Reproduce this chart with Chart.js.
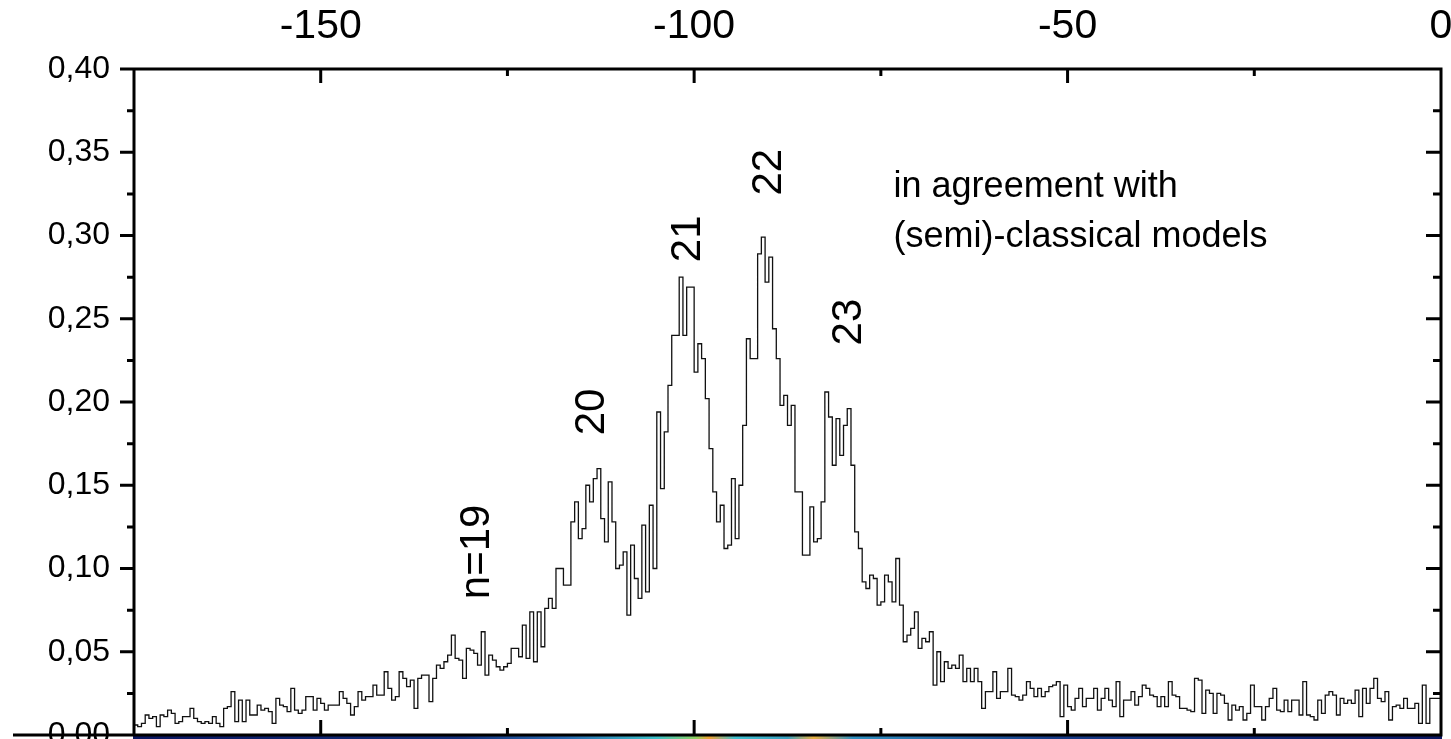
<!DOCTYPE html>
<html>
<head>
<meta charset="utf-8">
<script src="https://cdn.jsdelivr.net/npm/chart.js@4/dist/chart.umd.min.js"></script>
<style>
  html, body { margin: 0; padding: 0; background: #fff; }
  #wrap { width: 1451px; height: 739px; position: relative; }
</style>
</head>
<body>
<div id="wrap"><canvas id="spectrumChart"></canvas></div>
<script>
// histogram: bins of 0.5 starting at -175
const binStart = -175;
const binWidth = 0.5;

const countsLow = [
  0.006, 0.006, 0.005, 0.007, 0.012, 0.010, 0.011, 0.005, 0.012, 0.011,
  0.015, 0.013, 0.007, 0.008, 0.011, 0.011, 0.016, 0.010, 0.008, 0.007,
  0.008, 0.007, 0.011, 0.007, 0.005, 0.016, 0.017, 0.026, 0.008, 0.021,
  0.008, 0.021, 0.012, 0.012, 0.018, 0.015, 0.016, 0.014, 0.007, 0.022,
  0.018, 0.017, 0.014, 0.028, 0.015, 0.013, 0.015, 0.023, 0.023, 0.015,
  0.022, 0.019, 0.015, 0.018, 0.018, 0.018, 0.026, 0.022, 0.019, 0.012,
  0.017, 0.026, 0.021, 0.023, 0.023, 0.030, 0.024, 0.024, 0.038, 0.028,
  0.021, 0.023, 0.038, 0.034, 0.029, 0.033, 0.016, 0.034, 0.036, 0.036,
  0.020, 0.034, 0.042, 0.040, 0.044, 0.048, 0.060, 0.046, 0.045, 0.034,
  0.052, 0.051, 0.049, 0.042, 0.062, 0.036, 0.048, 0.045, 0.041, 0.039,
  0.041, 0.043, 0.052, 0.052, 0.047, 0.066, 0.046, 0.074, 0.044, 0.074,
  0.053, 0.076, 0.082, 0.076, 0.100, 0.100, 0.090, 0.090, 0.128, 0.140
];

const countsPeaks = [
  0.118, 0.124, 0.150, 0.140, 0.154, 0.160, 0.130, 0.116, 0.152, 0.128,
  0.100, 0.102, 0.110, 0.072, 0.114, 0.094, 0.082, 0.126, 0.086, 0.138,
  0.100, 0.194, 0.148, 0.182, 0.210, 0.240, 0.240, 0.275, 0.240, 0.269,
  0.269, 0.218, 0.235, 0.226, 0.202, 0.172, 0.146, 0.128, 0.138, 0.112,
  0.114, 0.154, 0.118, 0.150, 0.186, 0.238, 0.226, 0.226, 0.289, 0.299,
  0.272, 0.287, 0.244, 0.226, 0.198, 0.204, 0.186, 0.198, 0.146, 0.146,
  0.108, 0.108, 0.137, 0.116, 0.118, 0.140, 0.206, 0.191, 0.162, 0.190,
  0.168, 0.186, 0.196, 0.162, 0.122, 0.112, 0.092, 0.088, 0.096, 0.094,
  0.078, 0.080, 0.096, 0.092, 0.080, 0.106, 0.078, 0.056, 0.060, 0.064,
  0.074, 0.052, 0.058, 0.056, 0.062, 0.030, 0.050, 0.032, 0.044, 0.040,
  0.042, 0.040, 0.048, 0.032, 0.040, 0.032, 0.040, 0.032, 0.016, 0.026,
  0.026, 0.038, 0.022, 0.026, 0.026
];

const countsTail = [
  0.040, 0.024, 0.023, 0.021, 0.024, 0.032, 0.028, 0.023, 0.028, 0.023,
  0.026, 0.029, 0.030, 0.032, 0.011, 0.030, 0.017, 0.015, 0.022, 0.028,
  0.017, 0.022, 0.022, 0.028, 0.015, 0.022, 0.028, 0.021, 0.017, 0.032,
  0.011, 0.021, 0.021, 0.026, 0.018, 0.023, 0.030, 0.028, 0.024, 0.023,
  0.017, 0.023, 0.017, 0.032, 0.024, 0.023, 0.016, 0.016, 0.015, 0.014,
  0.034, 0.033, 0.013, 0.027, 0.025, 0.013, 0.025, 0.024, 0.019,
  0.009, 0.018, 0.015, 0.017, 0.009, 0.013, 0.030, 0.017, 0.017, 0.009,
  0.017, 0.022, 0.028, 0.015, 0.014, 0.021, 0.014, 0.021, 0.021, 0.012,
  0.032, 0.012, 0.011, 0.009, 0.021, 0.013, 0.024, 0.026, 0.024, 0.012,
  0.022, 0.019, 0.021, 0.019, 0.027, 0.011, 0.028, 0.019, 0.028, 0.034,
  0.022, 0.020, 0.026, 0.009, 0.017, 0.018, 0.016, 0.022, 0.016, 0.016,
  0.019, 0.007, 0.030, 0.007, 0.022, 0.022
];

const xTickValues = [-150, -100, -50, 0];
const xMinorValues = [-125, -75, -25];
const yTickValues = [0, 0.05, 0.10, 0.15, 0.20, 0.25, 0.30, 0.35, 0.40];
const yMinorValues = [0.025, 0.075, 0.125, 0.175, 0.225, 0.275, 0.325, 0.375];

const peakLabels = ['n=19', '20', '21', '22', '23'];
const peakLabelX = [-129.0, -113.6, -100.8, -89.9, -79.2];
const peakLabelY = [0.110, 0.194, 0.298, 0.338, 0.248];

const noteLines = ['in agreement with', '(semi)-classical models'];
const noteX = -73.3;
const noteY = [0.329, 0.299];

const FONT = '"Liberation Sans", Arial, sans-serif';

const counts = countsLow.concat(countsPeaks, countsTail);
const points = counts.map((v, i) => ({ x: binStart + i * binWidth, y: v }));
points.push({ x: binStart + counts.length * binWidth, y: counts[counts.length - 1] });

const framePlugin = {
  id: 'frame',
  afterDatasetsDraw(chart) {
    const { ctx, chartArea: a, scales: { x, y } } = chart;
    ctx.save();

    // coloured strip of the picture below the axis
    const g = ctx.createLinearGradient(a.left, 0, a.right, 0);
    g.addColorStop(0.00, '#0a1660');
    g.addColorStop(0.25, '#14307a');
    g.addColorStop(0.33, '#2a6ab0');
    g.addColorStop(0.40, '#3cc0c8');
    g.addColorStop(0.43, '#8fd060');
    g.addColorStop(0.44, '#f0a030');
    g.addColorStop(0.46, '#40c0d0');
    g.addColorStop(0.50, '#3aa0c0');
    g.addColorStop(0.52, '#e8b040');
    g.addColorStop(0.55, '#3090c0');
    g.addColorStop(0.70, '#183c88');
    g.addColorStop(1.00, '#0a1660');
    ctx.fillStyle = g;
    ctx.fillRect(a.left - 1, a.bottom + 1, a.right - a.left + 2, 4);

    ctx.strokeStyle = '#000';
    ctx.lineWidth = 3;
    ctx.lineCap = 'butt';
    ctx.beginPath();
    ctx.moveTo(a.left - 1.5, a.top); ctx.lineTo(a.right + 1.5, a.top);
    ctx.moveTo(a.left, a.top); ctx.lineTo(a.left, a.bottom);
    ctx.moveTo(a.right, a.top); ctx.lineTo(a.right, a.bottom);
    ctx.moveTo(13, a.bottom); ctx.lineTo(a.right + 1.5, a.bottom);

    xTickValues.forEach(v => {
      const px = x.getPixelForValue(v);
      ctx.moveTo(px, a.top); ctx.lineTo(px, a.top + 14);
      ctx.moveTo(px, a.bottom); ctx.lineTo(px, a.bottom - 15);
    });
    xMinorValues.forEach(v => {
      const px = x.getPixelForValue(v);
      ctx.moveTo(px, a.top); ctx.lineTo(px, a.top + 7);
      ctx.moveTo(px, a.bottom); ctx.lineTo(px, a.bottom - 7);
    });
    yTickValues.forEach(v => {
      const py = y.getPixelForValue(v);
      ctx.moveTo(a.left - 14, py); ctx.lineTo(a.left, py);
      ctx.moveTo(a.right, py); ctx.lineTo(a.right - 15, py);
    });
    yMinorValues.forEach(v => {
      const py = y.getPixelForValue(v);
      ctx.moveTo(a.left - 7, py); ctx.lineTo(a.left, py);
      ctx.moveTo(a.right, py); ctx.lineTo(a.right - 8, py);
    });
    ctx.stroke();

    // annotations
    ctx.fillStyle = '#000';
    ctx.font = '42px ' + FONT;
    ctx.textAlign = 'center';
    ctx.textBaseline = 'middle';
    peakLabels.forEach((t, i) => {
      ctx.save();
      ctx.translate(x.getPixelForValue(peakLabelX[i]), y.getPixelForValue(peakLabelY[i]));
      ctx.rotate(-Math.PI / 2);
      ctx.fillText(t, 0, 0);
      ctx.restore();
    });

    ctx.font = '36px ' + FONT;
    ctx.textAlign = 'left';
    noteLines.forEach((t, i) => {
      ctx.fillText(t, x.getPixelForValue(noteX), y.getPixelForValue(noteY[i]));
    });
    ctx.restore();
  }
};

new Chart(document.getElementById('spectrumChart'), {
  type: 'line',
  data: {
    datasets: [{
      data: points,
      stepped: 'after',
      borderColor: '#111',
      borderWidth: 1.3,
      pointRadius: 0,
      fill: false
    }]
  },
  options: {
    responsive: true,
    maintainAspectRatio: false,
    devicePixelRatio: 1,
    animation: false,
    layout: { padding: { top: 0, left: 0, right: 10, bottom: 4 } },
    plugins: {
      legend: { display: false },
      tooltip: { enabled: false }
    },
    scales: {
      x: {
        type: 'linear',
        position: 'top',
        min: -175,
        max: 0,
        grid: { display: false, drawTicks: false },
        border: { display: false },
        afterBuildTicks: s => { s.ticks = xTickValues.map(v => ({ value: v })); },
        afterFit: s => {
          s.height = 69;
          s.paddingLeft = 0; s.paddingRight = 0; s.paddingTop = 0; s.paddingBottom = 0;
        },
        ticks: {
          color: '#000',
          padding: 18,
          maxRotation: 0,
          font: { family: FONT, size: 41 },
          callback: v => String(v)
        }
      },
      y: {
        type: 'linear',
        min: 0,
        max: 0.4,
        grid: { display: false, drawTicks: false },
        border: { display: false },
        afterBuildTicks: s => { s.ticks = yTickValues.map(v => ({ value: v })); },
        afterFit: s => {
          s.width = 134;
          s.paddingLeft = 0; s.paddingRight = 0; s.paddingTop = 0; s.paddingBottom = 0;
        },
        ticks: {
          color: '#000',
          padding: 24,
          font: { family: FONT, size: 32 },
          callback: v => Number(v).toFixed(2).replace('.', ',')
        }
      }
    }
  },
  plugins: [framePlugin]
});
</script>
</body>
</html>
